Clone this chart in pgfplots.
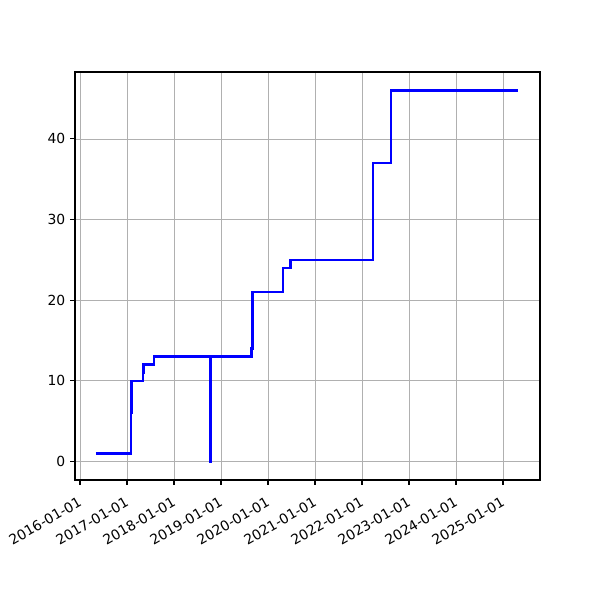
\documentclass[border=0pt]{standalone}
\usepackage{pgfplots}
\pgfplotsset{compat=1.18}
\usepackage{fontspec}
\setmainfont{DejaVu Sans}
\definecolor{gridgray}{HTML}{B0B0B0}
\begin{document}
\begin{tikzpicture}
\useasboundingbox (-54pt,-86.4pt) rectangle (378pt,345.6pt);
\begin{axis}[
    at={(0,0)}, anchor=south west,
    scale only axis,
    width=334.8pt, height=293.76pt,
    xmin=-0.106, xmax=9.787,
    ymin=-2.3, ymax=48.3,
    xtick={0,1,2,3,4,5,6,7,8,9},
    xticklabels={2016-01-01,2017-01-01,2018-01-01,2019-01-01,2020-01-01,2021-01-01,2022-01-01,2023-01-01,2024-01-01,2025-01-01},
    ytick={0,10,20,30,40},
    xticklabel style={rotate=30, anchor=north east, font=\fontsize{10}{12}\selectfont,
        inner sep=1pt, xshift=-4.5pt, yshift=-5pt},
    yticklabel style={font=\fontsize{10}{12}\selectfont},
    /pgf/number format/assume math mode=true,
    grid=major,
    major grid style={gridgray, line width=0.6pt},
    axis line style={line width=0.8pt},
    tick align=outside,
    major tick length=3.5pt,
    tick style={black, line width=0.8pt},
    xtick pos=bottom, ytick pos=left,
]
% cumulative count, step after each date (x = years since 2016-01-01)
\addplot[blue, line width=1.8pt, const plot] coordinates {
    (0.34,1) (1.085,6) (1.10,10) (1.34,11) (1.355,12) (1.57,13)
    (2.78,0) (2.783,13) (3.65,14) (3.67,21) (4.32,24) (4.48,25)
    (6.23,37) (6.62,46) (9.32,46)
};
\end{axis}
\end{tikzpicture}
\end{document}
